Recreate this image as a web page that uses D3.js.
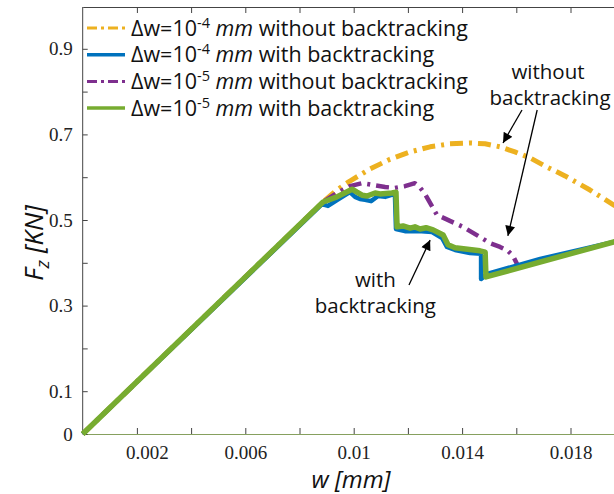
<!DOCTYPE html>
<html>
<head>
<meta charset="utf-8">
<script src="https://cdn.jsdelivr.net/npm/d3@7"></script>
<style>
  body { margin: 0; background: #fff; }
  svg { display: block; }
</style>
</head>
<body>
<div id="chart"></div>
<script>
// curves: w in mm, F in kN
let wY4 = [0, 0.00887, 0.00938, 0.00986, 0.01023, 0.0106, 0.01134, 0.01208, 0.01282, 0.01355, 0.01429, 0.01485, 0.0154, 0.01595, 0.01651, 0.01706, 0.0178, 0.01872, 0.0196, 0.02];
let fY4 = [0, 0.542, 0.570, 0.591, 0.605, 0.619, 0.642, 0.659, 0.671, 0.678, 0.680, 0.678, 0.671, 0.659, 0.645, 0.626, 0.603, 0.570, 0.535, 0.519];

let wP5 = [0, 0.00887, 0.00938, 0.00986, 0.01031, 0.01068, 0.01116, 0.01152, 0.01189, 0.01226, 0.01241, 0.01263, 0.01307, 0.01355, 0.01403, 0.01459, 0.01503, 0.0154, 0.01569, 0.01588, 0.01606];
let fP5 = [0, 0.542, 0.563, 0.579, 0.586, 0.582, 0.577, 0.575, 0.579, 0.586, 0.579, 0.561, 0.512, 0.498, 0.484, 0.463, 0.446, 0.437, 0.428, 0.416, 0.393];

let wB4 = [0, 0.00883, 0.00905, 0.0095, 0.00986, 0.01005, 0.01023, 0.01042, 0.01064, 0.0109, 0.01116, 0.01152, 0.01156, 0.01189, 0.01237, 0.01289, 0.01326, 0.01344, 0.01374, 0.01429, 0.0147, 0.0147, 0.01492, 0.01688, 0.0196, 0.02];
let fB4 = [0, 0.537, 0.533, 0.551, 0.565, 0.554, 0.549, 0.547, 0.544, 0.556, 0.554, 0.561, 0.479, 0.474, 0.474, 0.472, 0.458, 0.437, 0.430, 0.423, 0.421, 0.362, 0.374, 0.409, 0.449, 0.456];

let wG5 = [0, 0.00887, 0.00938, 0.00994, 0.01012, 0.01031, 0.01049, 0.01079, 0.01097, 0.01141, 0.01156, 0.0116, 0.01182, 0.01208, 0.01226, 0.01245, 0.01267, 0.01293, 0.0133, 0.01348, 0.01374, 0.01466, 0.01485, 0.01488, 0.0196, 0.02];
let fG5 = [0, 0.542, 0.554, 0.572, 0.565, 0.558, 0.556, 0.563, 0.561, 0.563, 0.565, 0.484, 0.486, 0.481, 0.484, 0.479, 0.482, 0.477, 0.465, 0.442, 0.435, 0.428, 0.425, 0.367, 0.449, 0.456];

let xTicks = [0.002, 0.004, 0.006, 0.008, 0.01, 0.012, 0.014, 0.016, 0.018, 0.02];
let xTickLabels = ['0.002', '', '0.006', '', '0.01', '', '0.014', '', '0.018', ''];
let yTicks = [0, 0.1, 0.2, 0.3, 0.4, 0.5, 0.6, 0.7, 0.8, 0.9];
let yTickLabels = ['0', '0.1', '', '0.3', '', '0.5', '', '0.7', '', '0.9'];

let seriesExp = ['-4', '-4', '-5', '-5'];
let seriesText = [' without backtracking', ' with backtracking', ' without backtracking', ' with backtracking'];
let seriesColor = ['#EDB120', '#0072BD', '#7E2F8E', '#77AC30'];

// annotation anchors in data units
let noteWithout = {w: 0.01717, f: [0.830, 0.769]};
let noteWith = {w: 0.0108, f: [0.3435, 0.2827]};
let arrows = [
    {from: [0.01621, 0.757], to: [0.01551, 0.680]},
    {from: [0.01677, 0.757], to: [0.01569, 0.463]},
    {from: [0.01204, 0.348], to: [0.01282, 0.453]}
];

let width = 614,
    height = 494,
    margin = {left: 82.7, top: 6, bottom: 60, right: -10.7};

let x = d3.scaleLinear().domain([0, 0.02]).range([margin.left, width - margin.right]);
let y = d3.scaleLinear().domain([0, 1]).range([height - margin.bottom, margin.top]);

let svg = d3.select('#chart').append('svg')
    .attr('width', width)
    .attr('height', height)
    .style('font-family', '"Open Sans", sans-serif');

svg.append('defs').append('marker')
    .attr('id', 'head')
    .attr('viewBox', '0 0 10 10')
    .attr('refX', 10)
    .attr('refY', 5)
    .attr('markerUnits', 'userSpaceOnUse')
    .attr('markerWidth', 13)
    .attr('markerHeight', 10)
    .attr('orient', 'auto')
    .append('path')
    .attr('d', 'M0,0 L10,5 L0,10 Z')
    .attr('fill', '#000');

// axes
let gx = svg.append('g')
    .attr('transform', `translate(0, ${y(0)})`)
    .call(d3.axisBottom(x).tickValues(xTicks).tickSizeInner(-6).tickSizeOuter(0).tickPadding(12)
        .tickFormat((d, i) => xTickLabels[i]));
gx.select('.domain').attr('stroke', '#86a05e').attr('stroke-width', 1.2);
gx.selectAll('.tick line').attr('stroke', '#444');
gx.selectAll('.tick text')
    .style('font-family', '"Liberation Serif", serif')
    .style('font-size', '19px')
    .attr('fill', '#222')
    .attr('dx', (d, i) => i === 0 ? 10 : 0);

let gtop = svg.append('g')
    .attr('transform', `translate(0, ${y(1) + 1})`)
    .call(d3.axisTop(x).tickValues(xTicks).tickSizeInner(-6).tickSizeOuter(0).tickFormat(''));
gtop.select('.domain').attr('stroke', '#444');
gtop.selectAll('.tick line').attr('stroke', '#444');

let gy = svg.append('g')
    .attr('transform', `translate(${x(0)}, 0)`)
    .call(d3.axisLeft(y).tickValues(yTicks).tickSizeInner(-5).tickSizeOuter(0).tickPadding(10)
        .tickFormat((d, i) => yTickLabels[i]));
gy.select('.domain').attr('stroke', '#444').attr('d', `M0,${y(1) + 1}V${y(0)}`);
gy.selectAll('.tick line').attr('stroke', '#444');
gy.selectAll('.tick text')
    .style('font-family', '"Liberation Serif", serif')
    .style('font-size', '19px')
    .attr('fill', '#222');

// curves
let line = d3.line().x(d => x(d[0])).y(d => y(d[1]));
let curves = [
    {w: wY4, f: fY4, c: 0, width: 5, dash: '13,6,3,6'},
    {w: wP5, f: fP5, c: 2, width: 4.5, dash: '13,6,3,6'},
    {w: wB4, f: fB4, c: 1, width: 4.5, dash: null},
    {w: wG5, f: fG5, c: 3, width: 5.5, dash: null}
];

svg.append('g').selectAll('path')
    .data(curves)
    .join('path')
    .attr('d', d => line(d.w.map((v, i) => [v, d.f[i]])))
    .attr('fill', 'none')
    .attr('stroke', d => seriesColor[d.c])
    .attr('stroke-width', d => d.width)
    .attr('stroke-dasharray', d => d.dash)
    .attr('stroke-linejoin', 'round');

// legend
let legend = svg.append('g')
    .selectAll('g')
    .data(seriesColor)
    .join('g')
    .attr('transform', (d, i) => `translate(87, ${28 + i * 26.7})`);

legend.append('line')
    .attr('x1', 0).attr('x2', 38)
    .attr('stroke', d => d)
    .attr('stroke-width', (d, i) => i % 2 ? 3.5 : 3)
    .attr('stroke-dasharray', (d, i) => i % 2 ? null : '10,4,3,4');

let ltext = legend.append('text')
    .attr('x', 44)
    .attr('y', 7.5)
    .style('font-size', '21.5px')
    .attr('fill', '#111');
ltext.append('tspan').text('\u0394w=10');
ltext.append('tspan').attr('dy', -8).style('font-size', '14.5px').text((d, i) => seriesExp[i]);
ltext.append('tspan').attr('dy', 8).text(' ');
ltext.append('tspan').style('font-style', 'italic').text('mm');
ltext.append('tspan').text((d, i) => seriesText[i]);

// notes
let notes = svg.append('g')
    .style('font-size', '20.5px')
    .attr('fill', '#111')
    .attr('text-anchor', 'middle');

notes.append('text').attr('x', x(noteWithout.w)).attr('y', y(noteWithout.f[0])).text('without');
notes.append('text').attr('x', x(noteWithout.w) + 2).attr('y', y(noteWithout.f[1])).text('backtracking');
notes.append('text').attr('x', x(noteWith.w)).attr('y', y(noteWith.f[0])).text('with');
notes.append('text').attr('x', x(noteWith.w)).attr('y', y(noteWith.f[1])).text('backtracking');

svg.append('g').selectAll('line')
    .data(arrows)
    .join('line')
    .attr('x1', d => x(d.from[0]))
    .attr('y1', d => y(d.from[1]))
    .attr('x2', d => x(d.to[0]))
    .attr('y2', d => y(d.to[1]))
    .attr('stroke', '#000')
    .attr('stroke-width', 1.3)
    .attr('marker-end', 'url(#head)');

// axis titles
svg.append('text')
    .attr('x', 351)
    .attr('y', 488)
    .attr('text-anchor', 'middle')
    .style('font-size', '24px')
    .style('font-style', 'italic')
    .attr('fill', '#111')
    .text('w [mm]');

let ylab = svg.append('text')
    .attr('transform', `translate(43, 243) rotate(-90)`)
    .attr('text-anchor', 'middle')
    .style('font-size', '26px')
    .style('font-style', 'italic')
    .attr('fill', '#111');
ylab.append('tspan').text('F');
ylab.append('tspan').attr('dy', 6).style('font-size', '19px').text('z');
ylab.append('tspan').attr('dy', -6).text(' [KN]');
</script>
</body>
</html>
